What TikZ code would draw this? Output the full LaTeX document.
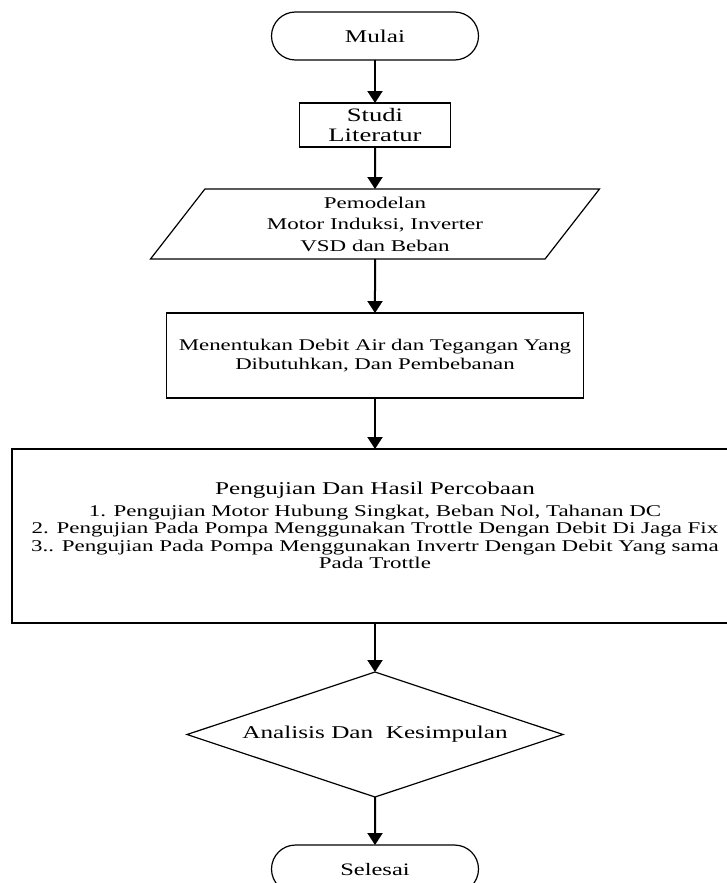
\documentclass[tikz,border=0pt]{standalone}
\usepackage{fontspec}
\setmainfont{Liberation Serif}[FakeStretch=1.4]
\usetikzlibrary{positioning,shapes.geometric,shapes.misc,arrows.meta}

\begin{document}
\begin{tikzpicture}[
  x=1pt, y=1pt,
  every node/.style={draw, line width=1.2pt, inner sep=2pt, outer sep=0pt, align=center},
  terminal/.style={rounded rectangle, minimum width=211pt, minimum height=48pt},
  process/.style={rectangle},
  io/.style={trapezium, trapezium left angle=59, trapezium right angle=121,
    trapezium stretches=true, minimum width=450pt, minimum height=70pt},
  decision/.style={diamond, aspect=3, minimum width=376pt, minimum height=125pt, inner sep=0pt},
  flow/.style={draw, line width=2pt, -{Triangle[length=12pt,width=15pt]}}
]
\useasboundingbox (0,0) rectangle (726,-883);

\node[terminal, font=\fontsize{18}{20}\selectfont] (mulai) at (375,-36) {Mulai};
\node[process, below=43pt of mulai, minimum width=151pt, minimum height=44pt,
  font=\fontsize{19}{20}\selectfont] (studi) {Studi\\Literatur};
\node[io, below=42pt of studi, font=\fontsize{16.4}{21.5}\selectfont] (model)
  {Pemodelan\\Motor Induksi, Inverter\\VSD dan Beban};
\node[process, below=54pt of model, minimum width=417pt, minimum height=85pt,
  font=\fontsize{16.3}{19}\selectfont] (debit)
  {Menentukan Debit Air dan Tegangan Yang\\Dibutuhkan, Dan Pembebanan};
\node[process, below=51pt of debit, minimum width=726pt, minimum height=174pt,
  font=\fontsize{16.4}{17.3}\selectfont] (uji)
  {{\fontsize{18}{17.3}\selectfont Pengujian Dan Hasil Percobaan}\\[4.5pt]
   1. Pengujian Motor Hubung Singkat, Beban Nol, Tahanan DC\\
   2. Pengujian Pada Pompa Menggunakan Trottle Dengan Debit Di Jaga Fix\\
   3.. Pengujian Pada Pompa Menggunakan Invertr Dengan Debit Yang sama\\
   Pada Trottle\\[4pt]};
\node[decision, below=49pt of uji, font=\fontsize{18}{20}\selectfont] (analisis)
  {Analisis Dan~ Kesimpulan};
\node[terminal, below=48pt of analisis, font=\fontsize{17.5}{20}\selectfont] (selesai) {Selesai};

% alur
\draw[flow] (mulai) -- (studi);
\draw[flow] (studi) -- (model);
\draw[flow] (model) -- (debit);
\draw[flow] (debit) -- (uji);
\draw[flow] (uji) -- (analisis);
\draw[flow] (analisis) -- (selesai);
\end{tikzpicture}
\end{document}
